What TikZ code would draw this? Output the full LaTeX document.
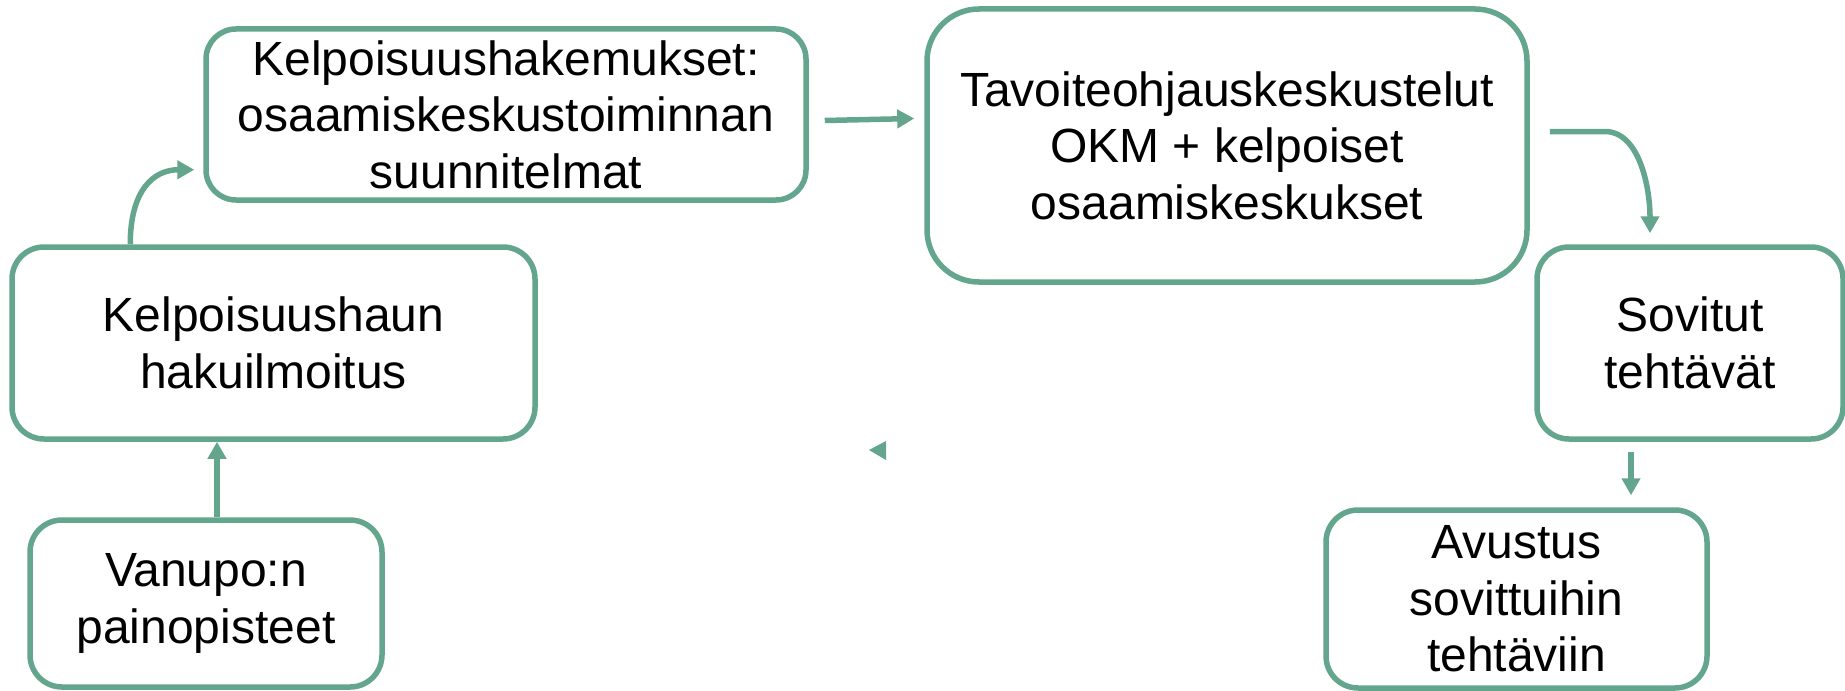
\documentclass[tikz,border=0pt]{standalone}
\usepackage{fontspec}
\setmainfont{Liberation Sans}
\usetikzlibrary{arrows.meta,calc}
\definecolor{kehys}{RGB}{99,166,141}
\newcommand{\px}{0.5pt}

\begin{document}
\begin{tikzpicture}[x=\px, y=-\px,
    rect/.style={draw=kehys, line width=5.5*\px, rounded corners=32*\px, align=center, inner sep=0pt, fill=white, font=\fontsize{24}{28.3}\selectfont},
    nuoli/.style={draw=kehys, line width=5.5*\px, -{Triangle[length=17*\px, width=18*\px]}}]
    \useasboundingbox (0,0) rectangle (1845,690);

    % Upper row
    \node[rect, minimum width=600*\px, minimum height=171*\px, rounded corners=30*\px] (hakemukset) at (506,114.5) {Kelpoisuushakemukset:\\osaamiskeskustoiminnan\\suunnitelmat};
    \node[rect, minimum width=600*\px, minimum height=273*\px, rounded corners=52*\px] (keskustelut) at (1227,145.5) {Tavoiteohjauskeskustelut\\OKM + kelpoiset\\osaamiskeskukset};

    % Middle row
    \node[rect, minimum width=523*\px, minimum height=192*\px] (ilmoitus) at (273.5,343) {Kelpoisuushaun\\hakuilmoitus};
    \node[rect, minimum width=306*\px, minimum height=192*\px] (sovitut) at (1690,343) {Sovitut\\tehtävät};

    % Lower row
    \node[rect, minimum width=352*\px, minimum height=167*\px] (painopisteet) at (206,603.5) {Vanupo:n\\painopisteet};
    \node[rect, minimum width=381*\px, minimum height=178*\px] (avustus) at (1516.5,599) {Avustus\\sovittuihin\\tehtäviin};

    % Arrows
    \draw[nuoli] ($(painopisteet.north)+(11,0)$) coordinate (p) -- (p |- ilmoitus.south);
    \draw[nuoli] ($(ilmoitus.north west)+(121,0)$) .. controls +(0,-55) and +(-40,0) .. ($(hakemukset.south west)+(-9,-33)$);
    \draw[nuoli] ($(hakemukset.east)+(16,6)$) -- ($(keskustelut.west)+(-10,-27)$);
    \draw[nuoli] ($(keskustelut.east)+(20,-14)$) -- ++(55,0) .. controls +(35,0) and +(0,-45) .. ($(sovitut.north)+(-40,-11)$);
    \draw[nuoli, shorten >=12*\px] ($(sovitut.south)+(-59,10)$) coordinate (q) -- (q |- avustus.north);
    \fill[kehys] (886,441) -- (886,460) -- (869,450) -- cycle;

\end{tikzpicture}
\end{document}
